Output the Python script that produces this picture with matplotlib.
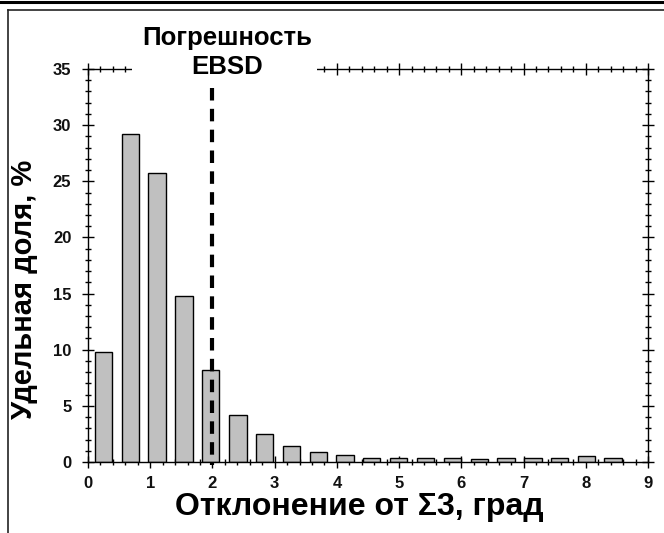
import matplotlib
matplotlib.use("Agg")
import matplotlib.pyplot as plt
from matplotlib.lines import Line2D
from matplotlib.patches import Rectangle
from matplotlib.ticker import MultipleLocator

plt.rcParams['font.family'] = ['Liberation Sans', 'DejaVu Sans']

# Data (bin centres in degrees, share in %)
bin_centers = [0.25, 0.68, 1.11, 1.54, 1.97, 2.41, 2.84, 3.27, 3.70, 4.13,
               4.56, 4.99, 5.42, 5.86, 6.29, 6.72, 7.15, 7.58, 8.01, 8.44]
shares = [9.8, 29.2, 25.7, 14.8, 8.2, 4.2, 2.5, 1.4, 0.93, 0.6,
          0.37, 0.37, 0.37, 0.37, 0.25, 0.37, 0.4, 0.37, 0.5, 0.37]
x_ticks = [0, 1, 2, 3, 4, 5, 6, 7, 8, 9]
y_ticks = [0, 5, 10, 15, 20, 25, 30, 35]
ebsd_error = 2.0
ebsd_line_top = 33.3

W, H = 664, 533
fig = plt.figure(figsize=(W / 100, H / 100), dpi=100)
ax = fig.add_axes([88 / W, 1 - 462 / H, (648 - 88) / W, (462 - 69) / H])

ax.bar(bin_centers, shares, width=0.28, color='#c0c0c0', edgecolor='black',
       linewidth=1.0, zorder=2)
ax.plot([ebsd_error, ebsd_error], [ebsd_line_top, -0.3], color='black', lw=3.0,
        linestyle=(0, (3, 2)), zorder=4, clip_on=False)

ax.set_xlim(0, 9)
ax.set_ylim(0, 35)
ax.set_xticks(x_ticks)
ax.set_yticks(y_ticks)
ax.xaxis.set_minor_locator(MultipleLocator(0.2))
ax.yaxis.set_minor_locator(MultipleLocator(1))
ax.tick_params(which='both', direction='inout', top=True, right=True,
               labeltop=False, labelright=False, width=1.0)
ax.tick_params(which='major', length=8)
ax.tick_params(which='minor', length=5)
ax.tick_params(axis='x', which='major', pad=6)
ax.tick_params(axis='y', which='major', pad=8)
for lab in ax.get_xticklabels() + ax.get_yticklabels():
    lab.set_fontweight('bold')
    lab.set_fontsize(12)
    lab.set_color('#111111')
for s in ax.spines.values():
    s.set_linewidth(1.0)

# white box masking top spine behind annotation
ax.add_patch(Rectangle((0.70, 33.9), 2.98, 4.0, facecolor='white',
                       edgecolor='none', zorder=5, clip_on=False))
ax.text(2.24, 36.5, 'Погрешность\nEBSD', ha='center', va='center',
        fontsize=18.5, fontweight='bold', linespacing=1.25, zorder=6)

fig.text(359 / W, 1 - 507 / H, 'Отклонение от Σ3, град', ha='center',
         va='center', fontsize=23, fontweight='bold')
fig.text(24 / W, 1 - 289 / H, 'Удельная доля, %', ha='center', va='center',
         rotation=90, fontsize=21, fontweight='bold')

# outer frame lines
fig.add_artist(Line2D([0, 1], [1 - 1.5 / H, 1 - 1.5 / H], color='black', lw=2.2,
                      transform=fig.transFigure))
fig.add_artist(Line2D([8 / W, 1], [1 - 9.5 / H, 1 - 9.5 / H], color='#222222',
                      lw=1.2, transform=fig.transFigure))
fig.add_artist(Line2D([8 / W, 8 / W], [0, 1 - 9.5 / H], color='#222222', lw=1.2,
                      transform=fig.transFigure))

fig.savefig('out.png', dpi=100)
